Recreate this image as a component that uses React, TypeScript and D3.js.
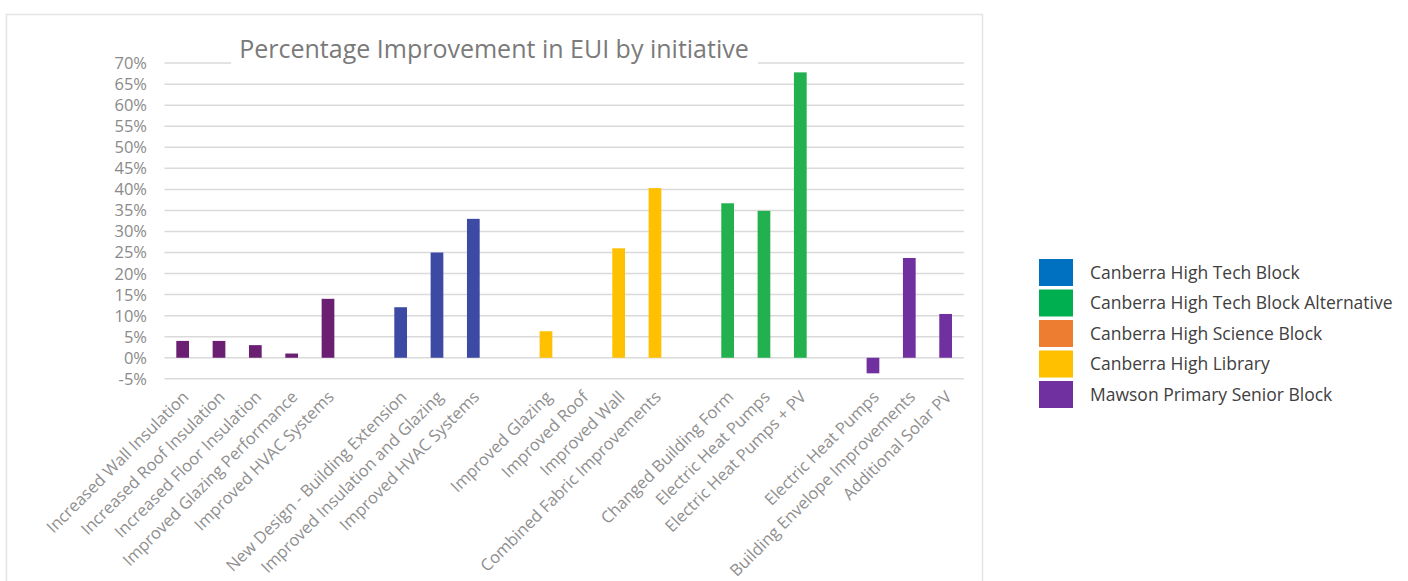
import React from "react";
import * as d3 from "d3";

const categories = [
  "Increased Wall Insulation",
  "Increased Roof Insulation",
  "Increased Floor Insulation",
  "Improved Glazing Performance",
  "Improved HVAC Systems",
  "",
  "New Design - Building Extension",
  "Improved Insulation and Glazing",
  "Improved HVAC Systems",
  "",
  "Improved Glazing",
  "Improved Roof",
  "Improved Wall",
  "Combined Fabric Improvements",
  "",
  "Changed Building Form",
  "Electric Heat Pumps",
  "Electric Heat Pumps + PV",
  "",
  "Electric Heat Pumps",
  "Building Envelope Improvements",
  "Additional Solar PV",
];

const values: (number | null)[] = [
  4, 4, 3, 1, 14, null, 12, 25, 33, null, 6.3, 0, 26, 40.3, null, 36.7, 34.9, 67.8,
  null, -3.7, 23.7, 10.4,
];

const barGroup = [0, 0, 0, 0, 0, -1, 1, 1, 1, -1, 2, 2, 2, 2, -1, 3, 3, 3, -1, 4, 4, 4];
const groupColors = ["#6B1F73", "#3C4AA3", "#FFC000", "#23B04E", "#7030A0"];

const yTicks = [-5, 0, 5, 10, 15, 20, 25, 30, 35, 40, 45, 50, 55, 60, 65, 70];

const legendLabels = [
  "Canberra High Tech Block",
  "Canberra High Tech Block Alternative",
  "Canberra High Science Block",
  "Canberra High Library",
  "Mawson Primary Senior Block",
];
const legendColors = ["#0070C0", "#00B050", "#ED7D31", "#FFC000", "#7030A0"];

const title = "Percentage Improvement in EUI by initiative";

export default function App() {
  const W = 1408;
  const H = 581;
  const x = d3
    .scaleBand<number>()
    .domain(categories.map((_, i) => i))
    .range([164.5, 963.8])
    .padding(0);
  const y = d3.scaleLinear().domain([-5, 70]).range([378.8, 63.1]);
  const bw = x.bandwidth() * 0.35;
  const font = "'Open Sans', sans-serif";

  return (
    <svg
      width={W}
      height={H}
      style={{ position: "absolute", left: 0, top: 0, background: "#fff" }}
    >
      <rect x={0} y={0} width={W} height={H} fill="#fff" />
      <rect x={6.5} y={14.5} width={976} height={620} fill="none" stroke="#e4e4e4" strokeWidth={1.5} />
      {yTicks.map((t) => (
        <g key={t}>
          <line x1={164.5} x2={963.8} y1={y(t)} y2={y(t)} stroke="#dadada" strokeWidth={1.5} />
          <text
            x={147}
            y={y(t)}
            dy="0.36em"
            textAnchor="end"
            fontFamily={font}
            fontSize={16.5}
            fill="#8a8a8a"
          >
            {`${t}%`}
          </text>
        </g>
      ))}
      <rect x={231} y={34} width={527} height={40} fill="#fff" />
      <text x={494} y={58} textAnchor="middle" fontFamily={font} fontSize={25} fill="#7a7a7a">
        {title}
      </text>
      {values.map((v, i) =>
        v === null ? null : (
          <rect
            key={i}
            x={(x(i) as number) + x.bandwidth() / 2 - bw / 2}
            y={y(Math.max(0, v))}
            width={bw}
            height={Math.abs(y(v) - y(0))}
            fill={groupColors[barGroup[i]]}
          />
        )
      )}
      {categories.map((c, i) =>
        c ? (
          <text
            key={i}
            transform={`translate(${(x(i) as number) + x.bandwidth() / 2 + 7},${398}) rotate(-45)`}
            textAnchor="end"
            fontFamily={font}
            fontSize={16.5}
            fill="#8f8f8f"
          >
            {c}
          </text>
        ) : null
      )}
      {legendLabels.map((l, i) => (
        <g key={l} transform={`translate(0,${259 + i * 30.5})`}>
          <rect x={1039} y={0} width={34} height={27} fill={legendColors[i]} />
          <text x={1090} y={13.5} dy="0.36em" fontFamily={font} fontSize={17.5} fill="#404040">
            {l}
          </text>
        </g>
      ))}
    </svg>
  );
}
